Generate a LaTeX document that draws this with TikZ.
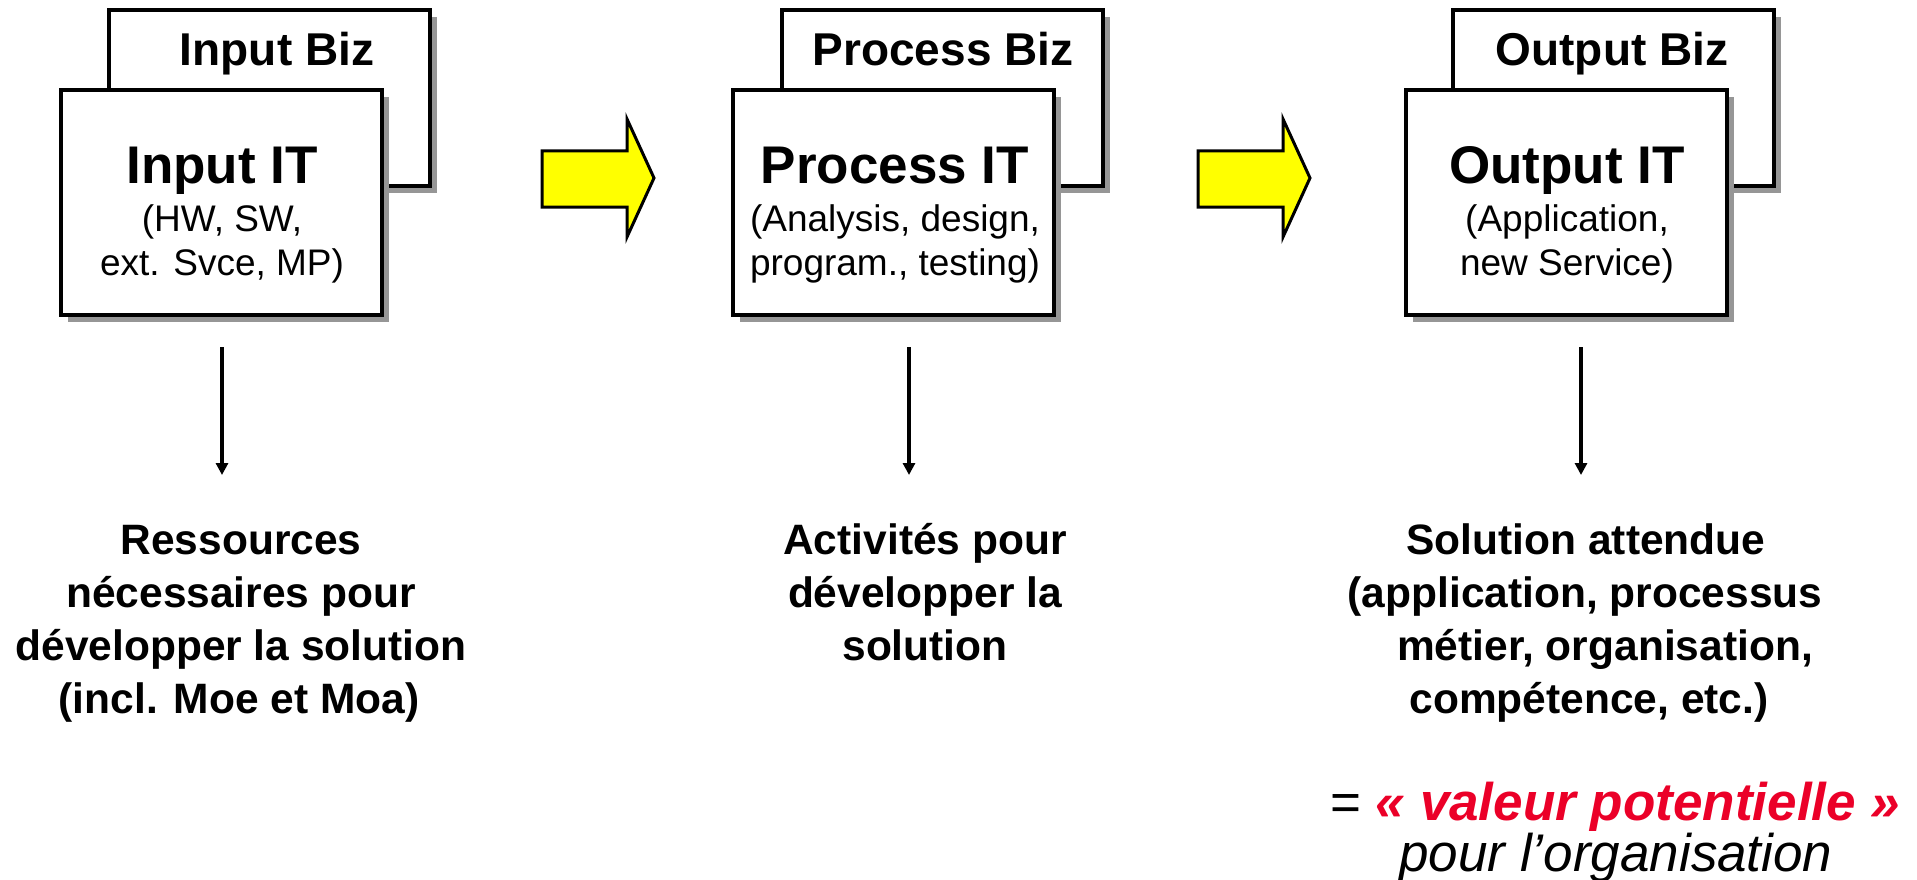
\documentclass[tikz,border=0pt]{standalone}
\usepackage{fontspec}
\setmainfont{Liberation Sans}
\usetikzlibrary{shadows,arrows.meta}
\definecolor{arrowyellow}{RGB}{255,255,0}
\definecolor{valred}{RGB}{235,0,40}
\definecolor{shadowgray}{RGB}{150,150,150}
\begin{document}
\begin{tikzpicture}[x=1pt,y=-1pt,
  boxbase/.style={draw=black, line width=4pt, fill=white, rectangle, inner sep=0pt,
    drop shadow={shadow xshift=7pt, shadow yshift=-7pt, fill=shadowgray, opacity=1}},
  bizbox/.style={boxbase, minimum width=321pt, minimum height=176pt},
  itbox/.style={boxbase, minimum width=321pt, minimum height=225pt},
  biztitle/.style={inner sep=0pt, anchor=base, font=\fontsize{46}{52}\selectfont\bfseries},
  ittitle/.style={inner sep=0pt, anchor=base, font=\fontsize{53}{60}\selectfont\bfseries},
  itsub/.style={inner sep=0pt, anchor=base, font=\fontsize{37}{44}\selectfont},
  lowtext/.style={inner sep=0pt, anchor=base, font=\fontsize{42.5}{53}\selectfont\bfseries},
  bigarrow/.style={draw=black, line width=3pt, fill=arrowyellow, line join=miter},
  downarrow/.style={draw=black, line width=4pt, -{Triangle[length=12pt,width=12pt]}}
]
\useasboundingbox (0,0) rectangle (1917,880);

% ---------- Input ----------
\node[bizbox] (inbiz) at (269.5,98) {};
\node[biztitle] (inbizt) at (277,66) {Input Biz};
\node[itbox] (init) at (221.5,202.5) {};
\node[ittitle] (initt) at (222,183) {Input IT};
\node[itsub] (inits1) at (222,231) {(HW, SW,};
\node[itsub] (inits2) at (222,275) {ext. Svce, MP)};

% ---------- Process ----------
\node[bizbox] (prbiz) at (942,98) {};
\node[biztitle] (prbizt) at (943,66) {Process Biz};
\node[itbox] (prit) at (893.5,202.5) {};
\node[ittitle] (pritt) at (895,183) {Process IT};
\node[itsub] (prits1) at (895,231) {(Analysis, design,};
\node[itsub] (prits2) at (895,275) {program., testing)};

% ---------- Output ----------
\node[bizbox] (oubiz) at (1613.5,98) {};
\node[biztitle] (oubizt) at (1612,66) {Output Biz};
\node[itbox] (ouit) at (1566.5,202.5) {};
\node[ittitle] (ouitt) at (1567,183) {Output IT};
\node[itsub] (ouits1) at (1567,231) {(Application,};
\node[itsub] (ouits2) at (1567,275) {new Service)};

% ---------- yellow arrows ----------
\draw[bigarrow] (542,151) -- (627,151) -- (627,119) -- (654,178) -- (627,237) -- (627,207) -- (542,207) -- cycle;
\draw[bigarrow] (1198,151) -- (1283,151) -- (1283,119) -- (1310,178) -- (1283,237) -- (1283,207) -- (1198,207) -- cycle;

% ---------- down arrows ----------
\coordinate (ina) at (222,347);
\coordinate (inb) at (222,475);
\coordinate (pra) at (909,347);
\coordinate (prb) at (909,475);
\coordinate (oua) at (1581,347);
\coordinate (oub) at (1581,475);
\draw[downarrow] (ina) -- (inb);
\draw[downarrow] (pra) -- (prb);
\draw[downarrow] (oua) -- (oub);

% ---------- lower texts ----------
\node[lowtext] (r1) at (241,554) {Ressources};
\node[lowtext] (r2) at (241,607) {nécessaires pour};
\node[lowtext] (r3) at (241,660) {développer la solution};
\node[lowtext] (r4) at (239,713) {(incl. Moe et Moa)};

\node[lowtext] (a1) at (925,554) {Activités pour};
\node[lowtext] (a2) at (925,607) {développer la};
\node[lowtext] (a3) at (925,660) {solution};

\node[lowtext] (s1) at (1586,554) {Solution attendue};
\node[lowtext] (s2) at (1585,607) {(application, processus};
\node[lowtext] (s3) at (1605,660) {métier, organisation,};
\node[lowtext] (s4) at (1589,713) {compétence, etc.)};

\node[inner sep=0pt, anchor=base west, font=\fontsize{53}{60}\selectfont] (v1) at (1330,820)
  {= {\color{valred}\bfseries\itshape « valeur potentielle »}};
\node[inner sep=0pt, anchor=base, font=\fontsize{53}{60}\selectfont\itshape] (v2) at (1616,871)
  {pour l’organisation};
\end{tikzpicture}
\end{document}
